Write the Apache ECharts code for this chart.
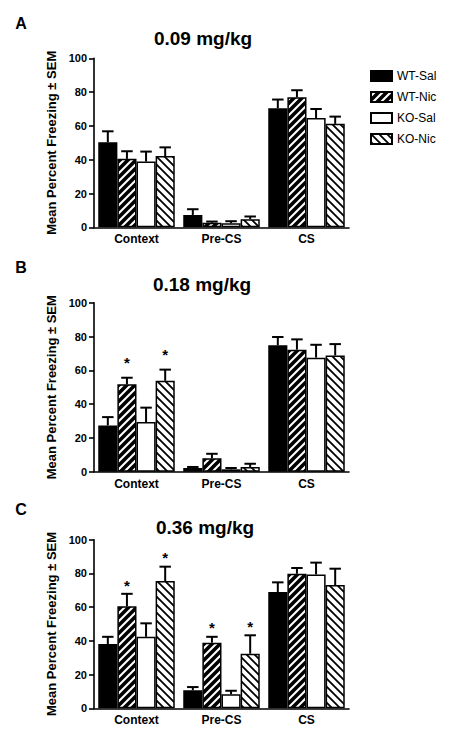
<!DOCTYPE html>
<html>
<head>
<meta charset="utf-8">
<script src="https://cdn.jsdelivr.net/npm/echarts@6/dist/echarts.min.js"></script>
<style>
html,body{margin:0;padding:0;background:#fff;}
#chart{width:453px;height:741px;}
</style>
</head>
<body>
<div id="chart"></div>
<script>
// ---- data ----
const categories = ['Context', 'Pre-CS', 'CS'];
const groups = ['WT-Sal', 'WT-Nic', 'KO-Sal', 'KO-Nic'];
const doseTitles = ['0.09 mg/kg', '0.18 mg/kg', '0.36 mg/kg'];
const panelLetters = ['A', 'B', 'C'];
const yAxisName = 'Mean Percent Freezing ± SEM';
const yMin = 0, yMax = 100, yStep = 20;

// rows = groups (WT-Sal, WT-Nic, KO-Sal, KO-Nic); columns = categories
const meanA = [[50.3, 7.3, 70.4], [40.5, 2.7, 76.9], [38.9, 2.4, 64.7], [42.2, 4.8, 61.2]];
const semTopA = [[56.8, 10.7, 75.6], [45.0, 3.4, 81.1], [44.8, 3.6, 70.0], [47.3, 6.4, 65.5]];
const meanB = [[27.4, 2.2, 74.8], [51.7, 8.0, 72.2], [29.4, 1.4, 67.5], [53.8, 2.8, 68.8]];
const semTopB = [[32.3, 2.8, 79.7], [55.6, 10.6, 78.3], [37.9, 2.2, 75.1], [60.4, 4.7, 75.5]];
const meanC = [[38.1, 10.7, 69.0], [60.6, 38.9, 79.8], [42.4, 8.3, 79.4], [75.5, 32.4, 73.1]];
const semTopC = [[42.4, 12.6, 74.7], [67.9, 42.4, 83.2], [50.4, 10.4, 86.4], [84.0, 43.3, 82.8]];
// significance stars: [group index, category index, height]
const starsA = [];
const starsB = [[1, 0, 66.4], [3, 0, 71.2]];
const starsC = [[1, 0, 74.5], [3, 0, 91.5], [1, 1, 49.8], [3, 1, 50.4]];

// ---- build ----
const FONT = '"Liberation Sans", Arial, Helvetica, sans-serif';

function hatch(dir, lw) {
  const s = 8;
  const c = document.createElement('canvas');
  c.width = s; c.height = s;
  const ctx = c.getContext('2d');
  ctx.fillStyle = '#fff';
  ctx.fillRect(0, 0, s, s);
  ctx.strokeStyle = '#000';
  ctx.lineWidth = lw;
  ctx.lineCap = 'square';
  ctx.beginPath();
  if (dir === '/') {
    ctx.moveTo(-1, s + 1); ctx.lineTo(s + 1, -1);
    ctx.moveTo(-1, 1); ctx.lineTo(1, -1);
    ctx.moveTo(s - 1, s + 1); ctx.lineTo(s + 1, s - 1);
  } else {
    ctx.moveTo(-1, -1); ctx.lineTo(s + 1, s + 1);
    ctx.moveTo(s - 1, -1); ctx.lineTo(s + 1, 1);
    ctx.moveTo(-1, s - 1); ctx.lineTo(1, s + 1);
  }
  ctx.stroke();
  return { image: c, repeat: 'repeat' };
}

const fills = ['#000', hatch('/', 3.6), '#fff', hatch('\\', 1.8)];

const means = [meanA, meanB, meanC];
const semTops = [semTopA, semTopB, semTopC];
const stars = [starsA, starsB, starsC];
const gridTops = [58.3, 302.7, 539.7];
const gridHeights = [169, 169, 168.6];
const titleCenters = [[203, 38], [202, 284], [205, 527]];
const letterPos = [[21, 23], [21, 267], [21, 509]];

const BAR_GAP_FRAC = 0.10;

const grids = [], xAxes = [], yAxes = [], series = [], graphics = [];

for (let p = 0; p < 3; p++) {
  grids.push({ left: 94, width: 255, top: gridTops[p], height: gridHeights[p], containLabel: false });
  xAxes.push({
    type: 'category', gridIndex: p, data: categories,
    axisLine: { lineStyle: { color: '#000', width: 1.6 } },
    axisTick: { alignWithLabel: true, length: 5, lineStyle: { color: '#000', width: 1.6 } },
    axisLabel: { color: '#000', fontWeight: 'bold', fontSize: 12, fontFamily: FONT, margin: 6 },
    splitLine: { show: false }
  });
  yAxes.push({
    type: 'value', gridIndex: p, min: yMin, max: yMax, interval: yStep,
    name: yAxisName, nameLocation: 'middle', nameGap: 32,
    nameTextStyle: { color: '#000', fontWeight: 'bold', fontSize: 13, fontFamily: FONT },
    axisLine: { show: true, lineStyle: { color: '#000', width: 1.6 } },
    axisTick: { show: true, length: 5, lineStyle: { color: '#000', width: 1.6 } },
    axisLabel: { color: '#000', fontWeight: 'bold', fontSize: 11, fontFamily: FONT, margin: 7 },
    splitLine: { show: false }
  });
  for (let g = 0; g < 4; g++) {
    series.push({
      type: 'bar', name: groups[g], xAxisIndex: p, yAxisIndex: p,
      data: means[p][g], barGap: '0%', barCategoryGap: (BAR_GAP_FRAC * 100) + '%',
      itemStyle: { color: fills[g], borderColor: '#000', borderWidth: 1.5 },
      emphasis: { disabled: true }, animation: false
    });
  }
  const errData = [];
  for (let g = 0; g < 4; g++) {
    for (let c = 0; c < categories.length; c++) {
      errData.push([c, means[p][g][c], semTops[p][g][c], g]);
    }
  }
  series.push({
    type: 'custom', xAxisIndex: p, yAxisIndex: p, data: errData, z: 5, animation: false,
    encode: { x: 0, y: 2 },
    renderItem: function (params, api) {
      const c = api.value(0), m = api.value(1), e = api.value(2), g = api.value(3);
      const band = api.size([1, 0])[0];
      const bw = band * (1 - BAR_GAP_FRAC) / 4;
      const base = api.coord([c, m]);
      const top = api.coord([c, e]);
      const x = base[0] + (g - 1.5) * bw;
      const cap = bw * 0.3;
      return {
        type: 'group', children: [
          { type: 'line', shape: { x1: x, y1: base[1], x2: x, y2: top[1] }, style: { stroke: '#000', lineWidth: 2 } },
          { type: 'line', shape: { x1: x - cap, y1: top[1], x2: x + cap, y2: top[1] }, style: { stroke: '#000', lineWidth: 2 } }
        ]
      };
    }
  });
  if (stars[p].length) {
    series.push({
      type: 'custom', xAxisIndex: p, yAxisIndex: p, z: 6, animation: false,
      data: stars[p].map(s => [s[1], s[2], s[0]]),
      encode: { x: 0, y: 1 },
      renderItem: function (params, api) {
        const c = api.value(0), h = api.value(1), g = api.value(2);
        const band = api.size([1, 0])[0];
        const bw = band * (1 - BAR_GAP_FRAC) / 4;
        const pt = api.coord([c, h]);
        return {
          type: 'text', x: pt[0] + (g - 1.5) * bw, y: pt[1] + 3,
          style: { text: '*', fill: '#000', font: 'bold 15px ' + FONT, align: 'center', verticalAlign: 'middle', textAlign: 'center', textVerticalAlign: 'middle' }
        };
      }
    });
  }
  graphics.push({
    type: 'text', x: titleCenters[p][0], y: titleCenters[p][1],
    style: { text: doseTitles[p], fill: '#000', font: 'bold 19px ' + FONT, align: 'center', verticalAlign: 'middle', textAlign: 'center', textVerticalAlign: 'middle' }
  });
  graphics.push({
    type: 'text', x: letterPos[p][0], y: letterPos[p][1],
    style: { text: panelLetters[p], fill: '#000', font: 'bold 16px ' + FONT, align: 'center', verticalAlign: 'middle', textAlign: 'center', textVerticalAlign: 'middle' }
  });
}

const chart = echarts.init(document.getElementById('chart'), null, { renderer: 'svg', width: 453, height: 741 });
chart.setOption({
  backgroundColor: '#fff',
  animation: false,
  grid: grids,
  xAxis: xAxes,
  yAxis: yAxes,
  legend: {
    data: groups, orient: 'vertical', left: 365, top: 65,
    itemWidth: 21, itemHeight: 10, itemGap: 9, icon: 'rect', selectedMode: false,
    textStyle: { color: '#000', fontSize: 12, fontFamily: FONT }
  },
  graphic: graphics,
  series: series
});
</script>
</body>
</html>
